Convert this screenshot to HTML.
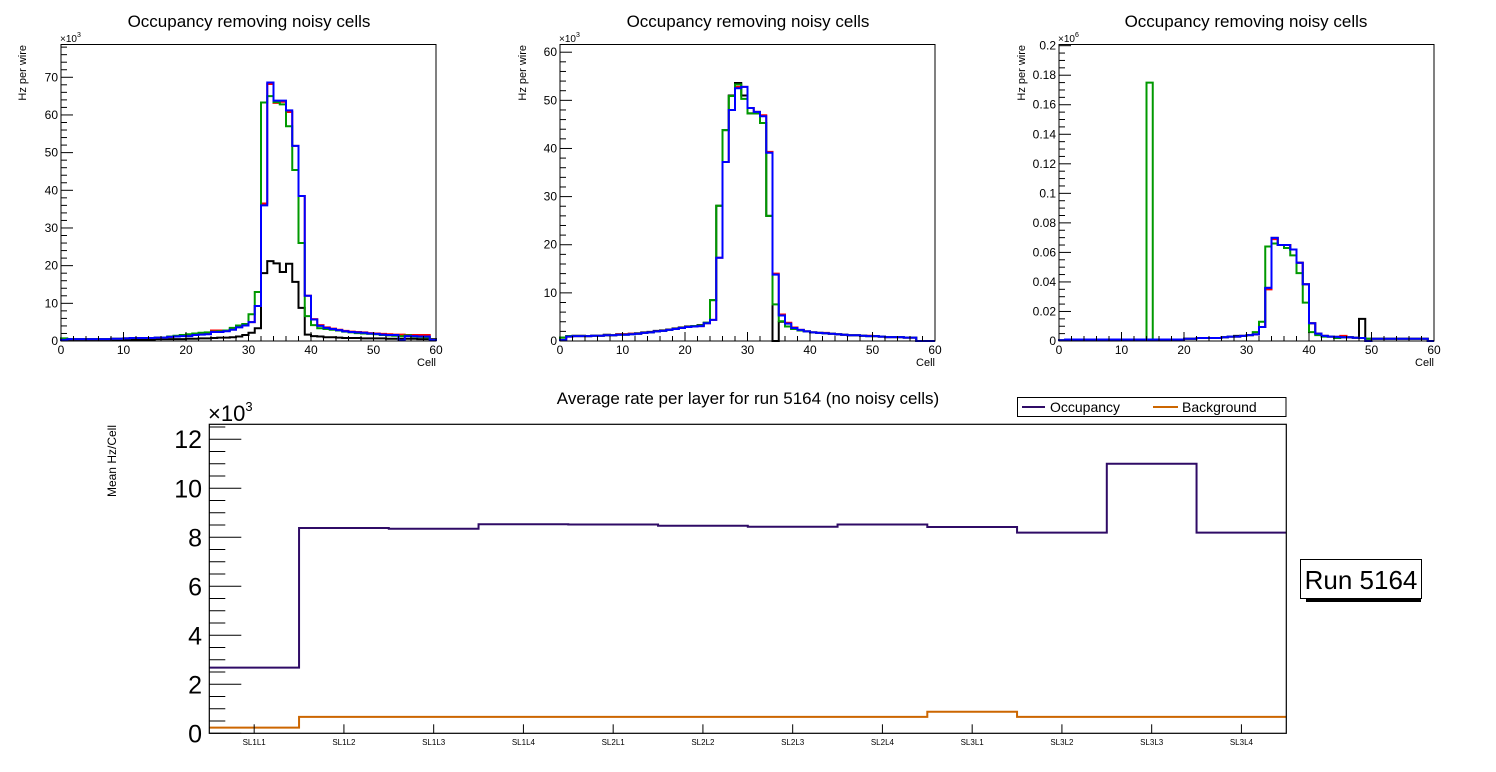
<!DOCTYPE html>
<html><head><meta charset="utf-8">
<style>
html,body{margin:0;padding:0;background:#fff;}
svg{display:block;font-family:"Liberation Sans",Arial,sans-serif;}
</style></head>
<body>
<svg id="c" width="1496" height="772" viewBox="0 0 1496 772" xmlns="http://www.w3.org/2000/svg"></svg>
<script>
// ---- Top panels data (60 bins, cells 0..60) ----
const p1Black=[0.3,0.3,0.3,0.3,0.3,0.3,0.3,0.3,0.4,0.4,0.4,0.4,0.4,0.4,0.4,0.5,0.5,0.5,0.5,0.5,0.6,0.6,0.7,0.7,0.8,0.9,0.9,1.0,1.2,1.6,2.2,3.4,18,21.2,20.6,18.3,20.5,15.7,8.8,1.7,1.3,1.2,1.0,1.0,0.9,0.8,0.8,0.8,0.7,0.7,0.7,0.7,0.6,0.6,0.6,0.6,0.6,0.5,0.5,0.5];
const p1Red=[0.3,0.5,0.5,0.5,0.5,0.5,0.5,0.5,0.6,0.6,0.7,0.8,0.8,0.8,0.8,0.9,0.9,1.1,1.3,1.4,1.5,1.7,1.8,2.0,2.8,2.8,2.8,3.1,3.7,4.2,5.0,9.3,36.5,68.2,63.2,63.5,60.8,51.8,38.5,12,5.8,4.2,3.6,3.3,3.0,2.7,2.5,2.4,2.3,2.1,2.0,1.9,1.8,1.7,1.7,1.6,1.6,1.6,1.6,0.3];
const p1Green=[0.7,0.5,0.5,0.5,0.5,0.5,0.5,0.5,0.6,0.6,0.7,0.8,0.8,0.8,0.8,0.9,0.9,1.2,1.4,1.6,1.8,2.0,2.2,2.3,2.5,2.6,2.8,3.5,4.1,4.5,7.1,13,63.3,65,63.4,62.8,57,45.4,26,6.6,4.2,3.4,3.2,3.0,2.8,2.5,2.3,2.1,2.0,1.9,1.8,1.6,1.5,1.4,1.3,1.5,1.2,1.1,1.0,0.3];
const p1Blue=[0.3,0.5,0.5,0.5,0.5,0.5,0.5,0.5,0.6,0.6,0.7,0.8,0.8,0.8,0.8,0.9,0.9,1.1,1.2,1.3,1.3,1.6,1.7,1.8,2.4,2.4,2.6,3.0,3.6,4.1,5.0,9.3,36,68.6,63.8,63.8,61.2,51.8,38.5,12,5.7,4.0,3.5,3.2,2.9,2.6,2.4,2.3,2.2,2.0,1.9,1.7,1.6,1.6,0.2,1.3,1.3,1.2,1.2,0.3];

const p2Black=[0.7,1.0,1.1,1.1,1.0,1.1,1.1,1.3,1.2,1.4,1.4,1.5,1.6,1.8,1.9,2.1,2.2,2.4,2.6,2.8,3.0,3.1,3.3,3.8,8.5,28.1,43.8,51,53.6,51,47.3,47.3,45.3,26,0,4.0,3.0,2.5,2.2,2.0,1.8,1.7,1.6,1.5,1.4,1.3,1.2,1.2,1.1,1.0,1.0,0.9,0.8,0.8,0.8,0.7,0.7,0,0,0];
const p2Red=[0.2,0.9,1.0,1.0,1.0,1.1,1.1,1.2,1.2,1.4,1.4,1.5,1.5,1.7,1.8,2.0,2.1,2.3,2.5,2.7,2.9,3.0,3.1,3.7,4.4,17.3,37.2,48,52.8,52.8,48.4,47.6,46.9,39.3,14,5.5,3.8,2.8,2.3,2.0,1.8,1.7,1.7,1.5,1.4,1.3,1.2,1.2,1.1,1.1,1.0,0.9,0.8,0.8,0.8,0.7,0.7,0,0,0];
const p2Green=[0.7,1.0,1.0,1.0,1.0,1.1,1.1,1.2,1.2,1.3,1.3,1.4,1.5,1.7,1.8,2.0,2.1,2.3,2.5,2.7,2.9,3.1,3.2,3.8,8.5,28.1,43.8,50.9,53.3,50.3,47.3,47.3,45.3,26,7.6,4.1,3.0,2.5,2.2,2.0,1.8,1.7,1.6,1.5,1.4,1.3,1.2,1.2,1.1,1.0,1.0,0.9,0.8,0.8,0.8,0.7,0.7,0,0,0];
const p2Blue=[0.2,0.9,1.0,1.0,1.0,1.1,1.1,1.2,1.2,1.3,1.3,1.4,1.5,1.7,1.8,2.0,2.1,2.3,2.5,2.7,2.9,3.0,3.1,3.7,4.4,17.3,37.2,48,52.5,52.8,48.4,47.6,46.7,39.1,13.8,5.3,3.6,2.7,2.3,2.0,1.8,1.7,1.6,1.5,1.4,1.3,1.2,1.2,1.1,1.0,1.0,0.9,0.8,0.8,0.8,0.7,0.7,0,0,0];

const p3Black=[0.0005,0.001,0.001,0.001,0.001,0.001,0.001,0.001,0.001,0.001,0.001,0.001,0.001,0.001,0.001,0.001,0.001,0.001,0.001,0.001,0.0015,0.0015,0.002,0.002,0.002,0.002,0.0025,0.003,0.0035,0.0035,0.004,0.0045,0.0095,0.036,0.0698,0.065,0.065,0.062,0.053,0.0384,0.012,0.005,0.0035,0.003,0.0028,0.0025,0.0025,0.0022,0.015,0.0015,0.0015,0.0015,0.0015,0.0015,0.0015,0.0015,0.0015,0.0015,0.0015,0];
const p3Red=[0.0005,0.0005,0.0005,0.0005,0.001,0.001,0.001,0.001,0.001,0.001,0.001,0.001,0.001,0.001,0.001,0.001,0.001,0.001,0.001,0.001,0.0015,0.0015,0.002,0.002,0.002,0.002,0.0025,0.003,0.003,0.0035,0.004,0.0045,0.0095,0.035,0.069,0.065,0.065,0.062,0.053,0.0384,0.012,0.005,0.0035,0.003,0.0028,0.0035,0.0025,0.0022,0.002,0,0.0015,0.0015,0.0015,0.0015,0.0015,0.0015,0.0015,0.0015,0.0015,0];
const p3Green=[0.0005,0.001,0.001,0.001,0.001,0.001,0.001,0.001,0.001,0.001,0.001,0.001,0.001,0.001,0.175,0.001,0.001,0.001,0.001,0.001,0.0015,0.0015,0.002,0.002,0.002,0.002,0.0025,0.003,0.003,0.0035,0.004,0.006,0.013,0.064,0.066,0.065,0.063,0.058,0.046,0.026,0.006,0.004,0.003,0.003,0.002,0.0025,0.0025,0.0022,0.002,0.0015,0.0015,0.0015,0.0015,0.0015,0.0015,0.0015,0.0015,0.0015,0.0015,0];
const p3Blue=[0.0005,0.001,0.001,0.001,0.001,0.001,0.001,0.001,0.001,0.001,0.001,0.001,0.001,0.001,0.001,0.001,0.001,0.001,0.001,0.001,0.0015,0.0015,0.002,0.002,0.002,0.002,0.0025,0.003,0.003,0.0035,0.004,0.0045,0.0095,0.036,0.0698,0.065,0.065,0.062,0.053,0.0384,0.012,0.005,0.0035,0.003,0.0028,0.0025,0.0025,0.0022,0.002,0,0.0015,0.0015,0.0015,0.0015,0.0015,0.0015,0.0015,0.0015,0.0015,0];

const p1YTicks=[0,10,20,30,40,50,60,70];
const p2YTicks=[0,10,20,30,40,50,60];
const p3YTicks=[0,0.02,0.04,0.06,0.08,0.1,0.12,0.14,0.16,0.18,0.2];
const cellTicks=[0,10,20,30,40,50,60];

// ---- Bottom chart data ----
const layers=["SL1L1","SL1L2","SL1L3","SL1L4","SL2L1","SL2L2","SL2L3","SL2L4","SL3L1","SL3L2","SL3L3","SL3L4"];
const occupancy=[2.68,8.38,8.35,8.53,8.52,8.47,8.43,8.52,8.42,8.19,11.0,8.19];
const background=[0.23,0.67,0.67,0.67,0.67,0.67,0.67,0.67,0.88,0.67,0.67,0.67];
const rateTicks=[0,2,4,6,8,10,12];

const NS="http://www.w3.org/2000/svg";
const svg=document.getElementById('c');
function mk(tag,attrs,parent){const e=document.createElementNS(NS,tag);for(const k in attrs)e.setAttribute(k,attrs[k]);(parent||svg).appendChild(e);return e;}

const panels=[
 {id:'p1',L:61,R:436,T:44.5,B:341,ymax:78.7,yt:p1YTicks,minor:2,series:[p1Black,p1Red,p1Green,p1Blue],exp:'3',fmt:v=>String(v),title:249,ytx:22},
 {id:'p2',L:560,R:935,T:44.5,B:341,ymax:61.6,yt:p2YTicks,minor:2,series:[p2Black,p2Red,p2Green,p2Blue],exp:'3',fmt:v=>String(v),title:748,ytx:522},
 {id:'p3',L:1059,R:1434,T:44.5,B:341,ymax:0.2008,yt:p3YTicks,minor:0.005,series:[p3Black,p3Red,p3Green,p3Blue],exp:'6',fmt:v=>String(+v.toFixed(2)),title:1246,ytx:1021}
];
const colors=['#000000','#ff0000','#009900','#0000ff'];
const snames=['black-series','red-series','green-series','blue-series'];

panels.forEach((p,pi)=>{
  const g=mk('g',{});
  
  
  const x=v=>p.L+(p.R-p.L)*v/60;
  const y=v=>p.B-(p.B-p.T)*v/p.ymax;
  const t=mk('text',{x:p.title,y:27,'font-size':17,'text-anchor':'middle',fill:'#000'},g);
  t.textContent='Occupancy removing noisy cells';
  
  
  // series
  p.series.forEach((arr,si)=>{
    let d='M'+x(0)+','+y(0);
    arr.forEach((v,i)=>{d+=' L'+x(i)+','+y(v)+' L'+x(i+1)+','+y(v);});
    d+=' L'+x(60)+','+y(0);
    const path=mk('path',{d:d,fill:'none',stroke:colors[si],'stroke-width':2},g);
    
    
  });
  // frame
  const fr=mk('rect',{x:p.L,y:p.T,width:p.R-p.L,height:p.B-p.T,fill:'none',stroke:'#000','stroke-width':1},g);
  
  
  // y ticks
  for(let v=0;v<=p.ymax+1e-9;v+=p.minor){
    const major=p.yt.some(tv=>Math.abs(tv-v)<1e-9);
    mk('line',{x1:p.L,x2:p.L+(major?12:6),y1:y(v),y2:y(v),stroke:'#000','stroke-width':1},g);
  }
  p.yt.forEach(v=>{
    const l=mk('text',{x:p.L-3,y:y(v)+4,'font-size':12,'text-anchor':'end',fill:'#000'},g);
    l.textContent=p.fmt(v);
    
    
  });
  // x ticks
  for(let v=0;v<=60;v+=2){
    const major=v%10===0;
    mk('line',{x1:x(v),x2:x(v),y1:p.B,y2:p.B-(major?9:5),stroke:'#000','stroke-width':1},g);
  }
  cellTicks.forEach(v=>{
    const l=mk('text',{x:x(v),y:354,'font-size':12,'text-anchor':'middle',fill:'#000'},g);
    l.textContent=String(v);
    
    
  });
  const xt=mk('text',{x:p.R,y:366,'font-size':11,'text-anchor':'end',fill:'#000'},g);
  xt.textContent='Cell';
  
  
  const yt=mk('text',{x:0,y:0,'font-size':11,'text-anchor':'end',fill:'#000',transform:'translate('+(p.ytx+4)+',45) rotate(-90)'},g);
  yt.textContent='Hz per wire';
  
  
  const ex=mk('text',{x:p.L-1,y:42,'font-size':10,fill:'#000'},g);
  ex.innerHTML='×10<tspan dy="-5" font-size="7">'+p.exp+'</tspan>';
  
  
});

// ---- Bottom chart ----
(function(){
  const L=209.3,R=1286.3,T=424.3,B=733.3,ymax=12.61;
  const g=mk('g',{});
  
  
  const n=layers.length;
  const x=i=>L+(R-L)*i/n;
  const y=v=>B-(B-T)*v/ymax;
  const t=mk('text',{x:748,y:404,'font-size':17,'text-anchor':'middle',fill:'#000'},g);
  t.textContent='Average rate per layer for run 5164 (no noisy cells)';
  
  
  function step(arr,color,name){
    let d='M'+x(0)+','+y(arr[0]);
    arr.forEach((v,i)=>{d+=' L'+x(i)+','+y(v)+' L'+x(i+1)+','+y(v);});
    const p=mk('path',{d:d,fill:'none',stroke:color,'stroke-width':2},g);
    
    
  }
  step(occupancy,'#2f0b66','occupancy-line');
  step(background,'#cc6600','background-line');
  const fr=mk('rect',{x:L,y:T,width:R-L,height:B-T,fill:'none',stroke:'#000','stroke-width':1.2},g);
  
  
  for(let v=0;v<=ymax+1e-9;v+=0.5){
    const major=Math.abs(v%2)<1e-9;
    mk('line',{x1:L,x2:L+(major?32:16),y1:y(v),y2:y(v),stroke:'#000','stroke-width':1},g);
  }
  rateTicks.forEach(v=>{
    const l=mk('text',{x:202,y:y(v)+9,'font-size':25,'text-anchor':'end',fill:'#000'},g);
    l.textContent=String(v);
    
    
  });
  layers.forEach((lab,i)=>{
    const cx=(x(i)+x(i+1))/2;
    mk('line',{x1:cx,x2:cx,y1:B,y2:B-9,stroke:'#000','stroke-width':1},g);
    const l=mk('text',{x:cx,y:745,'font-size':8,'text-anchor':'middle',fill:'#000'},g);
    l.textContent=lab;
    
    
  });
  const ex=mk('text',{x:208,y:421,'font-size':22,fill:'#000'},g);
  ex.innerHTML='×10<tspan dy="-10" font-size="13">3</tspan>';
  
  
  const yt=mk('text',{x:0,y:0,'font-size':12,'text-anchor':'end',fill:'#000',transform:'translate(116,425) rotate(-90)'},g);
  yt.textContent='Mean Hz/Cell';
  
  
  // legend
  const lg=mk('g',{},g);
  
  
  mk('rect',{x:1017.5,y:397.5,width:268.5,height:19,fill:'#fff',stroke:'#000','stroke-width':1},lg);
  mk('line',{x1:1022,x2:1045,y1:407,y2:407,stroke:'#2f0b66','stroke-width':2},lg);
  const l1=mk('text',{x:1050,y:412,'font-size':14,fill:'#000'},lg);
  l1.textContent='Occupancy';
  
  
  mk('line',{x1:1153,x2:1178,y1:407,y2:407,stroke:'#cc6600','stroke-width':2},lg);
  const l2=mk('text',{x:1182,y:412,'font-size':14,fill:'#000'},lg);
  l2.textContent='Background';
  
  
  // run label
  const rb=mk('g',{},g);
  
  
  mk('rect',{x:1306,y:597,width:115,height:5,fill:'#000'},rb);
  mk('rect',{x:1300.5,y:559.5,width:121,height:39,fill:'#fff',stroke:'#000','stroke-width':1},rb);
  const rt=mk('text',{x:1361,y:589,'font-size':26,'text-anchor':'middle',fill:'#000'},rb);
  rt.textContent='Run 5164';
})();
</script>
</body></html>
